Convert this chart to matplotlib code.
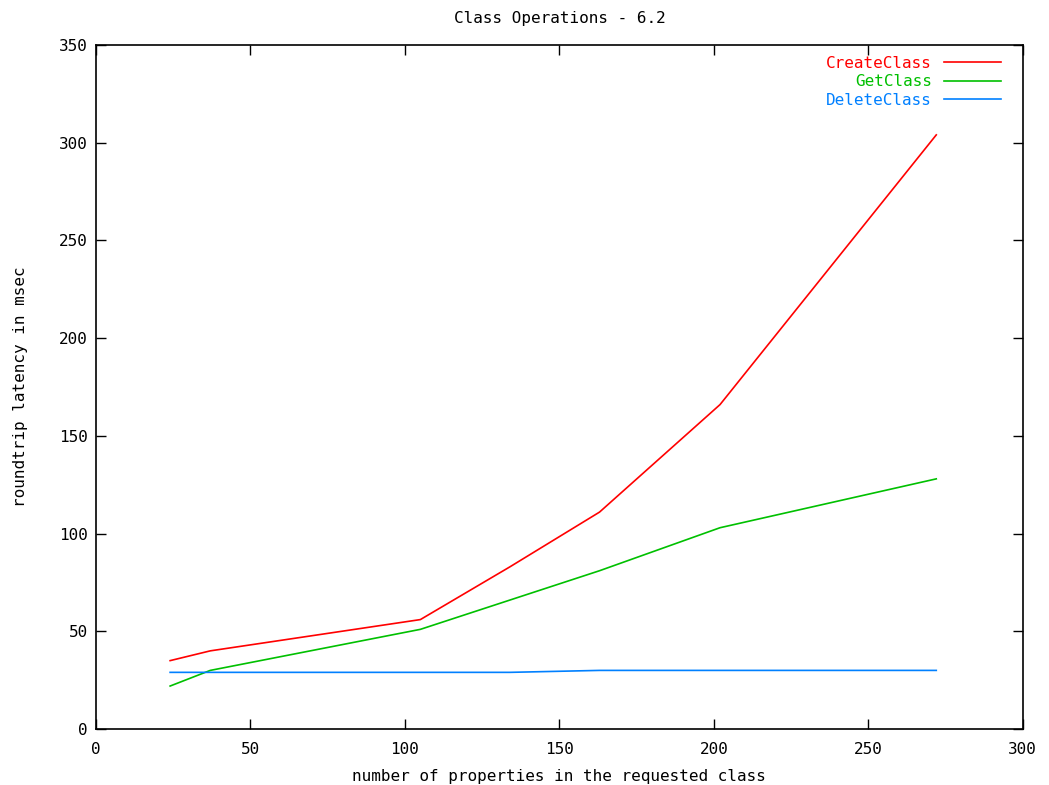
import matplotlib
matplotlib.use('Agg')
import matplotlib.pyplot as plt

# number of properties in the requested class
props = [24, 37, 105, 134, 163, 202, 272]
create_class = [35, 40, 56, 83, 111, 166, 304]
get_class = [22, 30, 51, 66, 81, 103, 128]
delete_class = [29, 29, 29, 29, 30, 30, 30]

plt.rcParams['font.family'] = 'DejaVu Sans Mono'
plt.rcParams['font.size'] = 11.5

fig = plt.figure(figsize=(10.49, 7.85), dpi=100)
ax = fig.add_axes([0.0915, 0.0713, 0.8835, 0.8714])

ax.plot(props, create_class, color='#ff0000', lw=1.2, label='CreateClass')
ax.plot(props, get_class, color='#00c000', lw=1.2, label='GetClass')
ax.plot(props, delete_class, color='#0080ff', lw=1.2, label='DeleteClass')

ax.set_xlim(0, 300)
ax.set_ylim(0, 350)
ax.set_xticks(range(0, 301, 50))
ax.set_yticks(range(0, 351, 50))
ax.tick_params(direction='in', top=True, right=True, length=7, width=1)
ax.tick_params(axis='x', pad=9)
ax.tick_params(axis='y', pad=6)
for s in ax.spines.values():
    s.set_linewidth(1.2)

ax.set_title('Class Operations - 6.2', fontsize=11.5, pad=16)
ax.set_xlabel('number of properties in the requested class', fontsize=11.5, labelpad=9)
ax.set_ylabel('roundtrip latency in msec', fontsize=11.5, labelpad=22)

ax.legend(loc='upper right', bbox_to_anchor=(0.977, 0.984), markerfirst=False,
          frameon=False, labelcolor='linecolor', fontsize=11.5,
          handlelength=3.6, handletextpad=0.75, labelspacing=0.22,
          borderpad=0, borderaxespad=0)

fig.savefig('out.png', dpi=100)
